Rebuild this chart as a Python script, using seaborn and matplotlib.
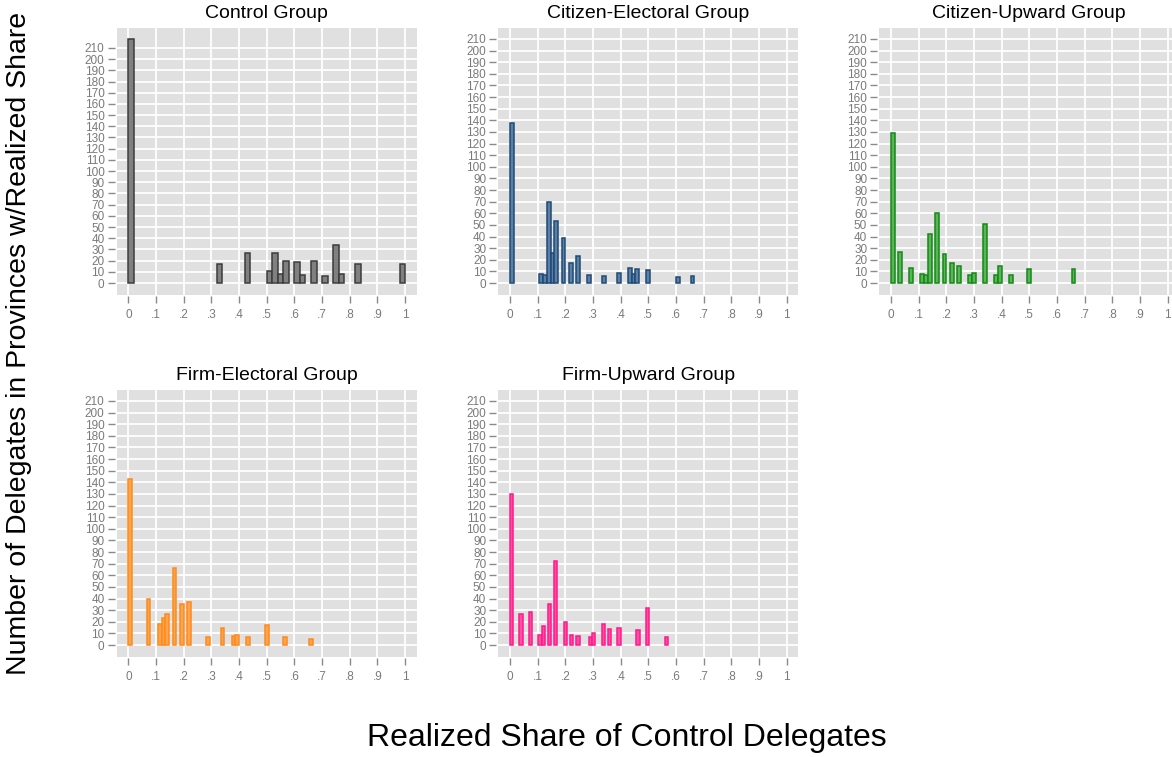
import numpy as np
import matplotlib
matplotlib.use("Agg")
import matplotlib.pyplot as plt
import seaborn as sns

# Realized share of control delegates per province and number of delegates
control_share = [0.0, 0.333, 0.429, 0.5, 0.533, 0.545, 0.571, 0.615, 0.625,
                 0.667, 0.714, 0.75, 0.769, 0.833, 1.0]
control_count = [218, 17, 27, 11, 27, 8, 20, 19, 7, 20, 6, 34, 8, 17, 17]

cit_elec_share = [0.0, 0.111, 0.125, 0.143, 0.154, 0.167, 0.188, 0.222, 0.25,
                  0.286, 0.34, 0.39, 0.429, 0.444, 0.462, 0.5, 0.607, 0.66]
cit_elec_count = [138, 8, 7, 70, 26, 53, 39, 17, 23, 7, 6, 9, 13, 8, 12, 11, 5, 6]

cit_up_share = [0.0, 0.033, 0.071, 0.111, 0.125, 0.143, 0.167, 0.188, 0.222,
                0.25, 0.286, 0.3, 0.34, 0.375, 0.39, 0.429, 0.5, 0.66]
cit_up_count = [129, 27, 13, 8, 7, 42, 60, 25, 17, 15, 7, 9, 51, 7, 15, 7, 12, 12]

firm_elec_share = [0.0, 0.071, 0.111, 0.125, 0.143, 0.167, 0.188, 0.222, 0.286,
                   0.34, 0.375, 0.39, 0.429, 0.5, 0.571, 0.66]
firm_elec_count = [143, 40, 18, 23, 27, 66, 35, 37, 7, 15, 8, 9, 7, 17, 7, 5]

firm_up_share = [0.0, 0.04, 0.071, 0.111, 0.125, 0.143, 0.167, 0.2, 0.222, 0.25,
                 0.29, 0.3, 0.333, 0.364, 0.395, 0.462, 0.5, 0.571]
firm_up_count = [130, 27, 28, 9, 16, 35, 72, 20, 9, 8, 7, 10, 18, 14, 15, 13, 32, 7]

# Largest realized share in each group (upper end of the 50 histogram bins)
share_max = [1.0, 2 / 3, 2 / 3, 2 / 3, 4 / 7]

titles = ["Control Group", "Citizen-Electoral Group", "Citizen-Upward Group",
          "Firm-Electoral Group", "Firm-Upward Group"]
shares = [control_share, cit_elec_share, cit_up_share, firm_elec_share, firm_up_share]
counts = [control_count, cit_elec_count, cit_up_count, firm_elec_count, firm_up_count]

fills = ["#808080", "#5d7fa3", "#5bb35b", "#ffa54f", "#ff4fa6"]
edges = ["#3c3c3c", "#1d4a78", "#138a13", "#ff8a1c", "#ff1a8a"]

y_ticks = list(range(0, 211, 10))
x_ticks = [0, 0.1, 0.2, 0.3, 0.4, 0.5, 0.6, 0.7, 0.8, 0.9, 1.0]
x_tick_labels = ["0", ".1", ".2", ".3", ".4", ".5", ".6", ".7", ".8", ".9", "1"]

sns.set_style("darkgrid", {"axes.facecolor": "#e0e0e0", "grid.color": "white",
                           "axes.edgecolor": "none", "text.color": "black"})
plt.rcParams["font.family"] = ["Liberation Sans", "DejaVu Sans"]

W, H = 1172, 757
fig = plt.figure(figsize=(W / 100, H / 100), dpi=100)
fig.patch.set_facecolor("white")

col_left = [116.7, 498.3, 879.3]
row_top = [27.5, 389.5]
pw, ph = 300, 267

for i, title in enumerate(titles):
    r, c = divmod(i, 3)
    ax = fig.add_axes([col_left[c] / W, 1 - (row_top[r] + ph) / H, pw / W, ph / H])
    sns.histplot(x=shares[i], weights=counts[i], bins=50, binrange=(0, share_max[i]),
                 stat="count", color=fills[i], edgecolor=edges[i], linewidth=1.1,
                 alpha=1, ax=ax)
    # empty bins carry no bar
    for p in ax.patches:
        if p.get_height() == 0:
            p.set_visible(False)
    ymax = max(210, max(counts[i]))
    pad = 0.047 * ymax
    ax.set_ylim(-pad, ymax + pad)
    ax.set_xlim(-0.042, 1.042)
    ax.set_yticks(y_ticks)
    ax.set_yticklabels([str(v) for v in y_ticks])
    ax.set_xticks(x_ticks)
    ax.set_xticklabels(x_tick_labels)
    ax.grid(True, color="white", linewidth=1.3)
    ax.set_axisbelow(True)
    ax.tick_params(axis="both", which="major", bottom=True, left=True,
                   length=4.8, width=1, color="#8a8a8a", labelcolor="#7a7a7a",
                   labelsize=8.5)
    ax.tick_params(axis="x", pad=4.8)
    ax.tick_params(axis="y", pad=2.4)
    ax.spines["left"].set_position(("outward", 1.5))
    ax.spines["bottom"].set_position(("outward", 1.2))
    for s in ax.spines.values():
        s.set_color("none")
    ax.set_xlabel("")
    ax.set_ylabel("")
    ax.set_title(title, fontsize=14, pad=6.6, color="black")

fig.text(627 / W, 1 - 738 / H, "Realized Share of Control Delegates",
         ha="center", va="center", fontsize=23, color="black")
fig.text(19 / W, 1 - 343.5 / H, "Number of Delegates in Provinces w/Realized Share",
         ha="center", va="center", rotation=90, fontsize=20.5, color="black")

fig.savefig("out.png", dpi=100, facecolor="white")
